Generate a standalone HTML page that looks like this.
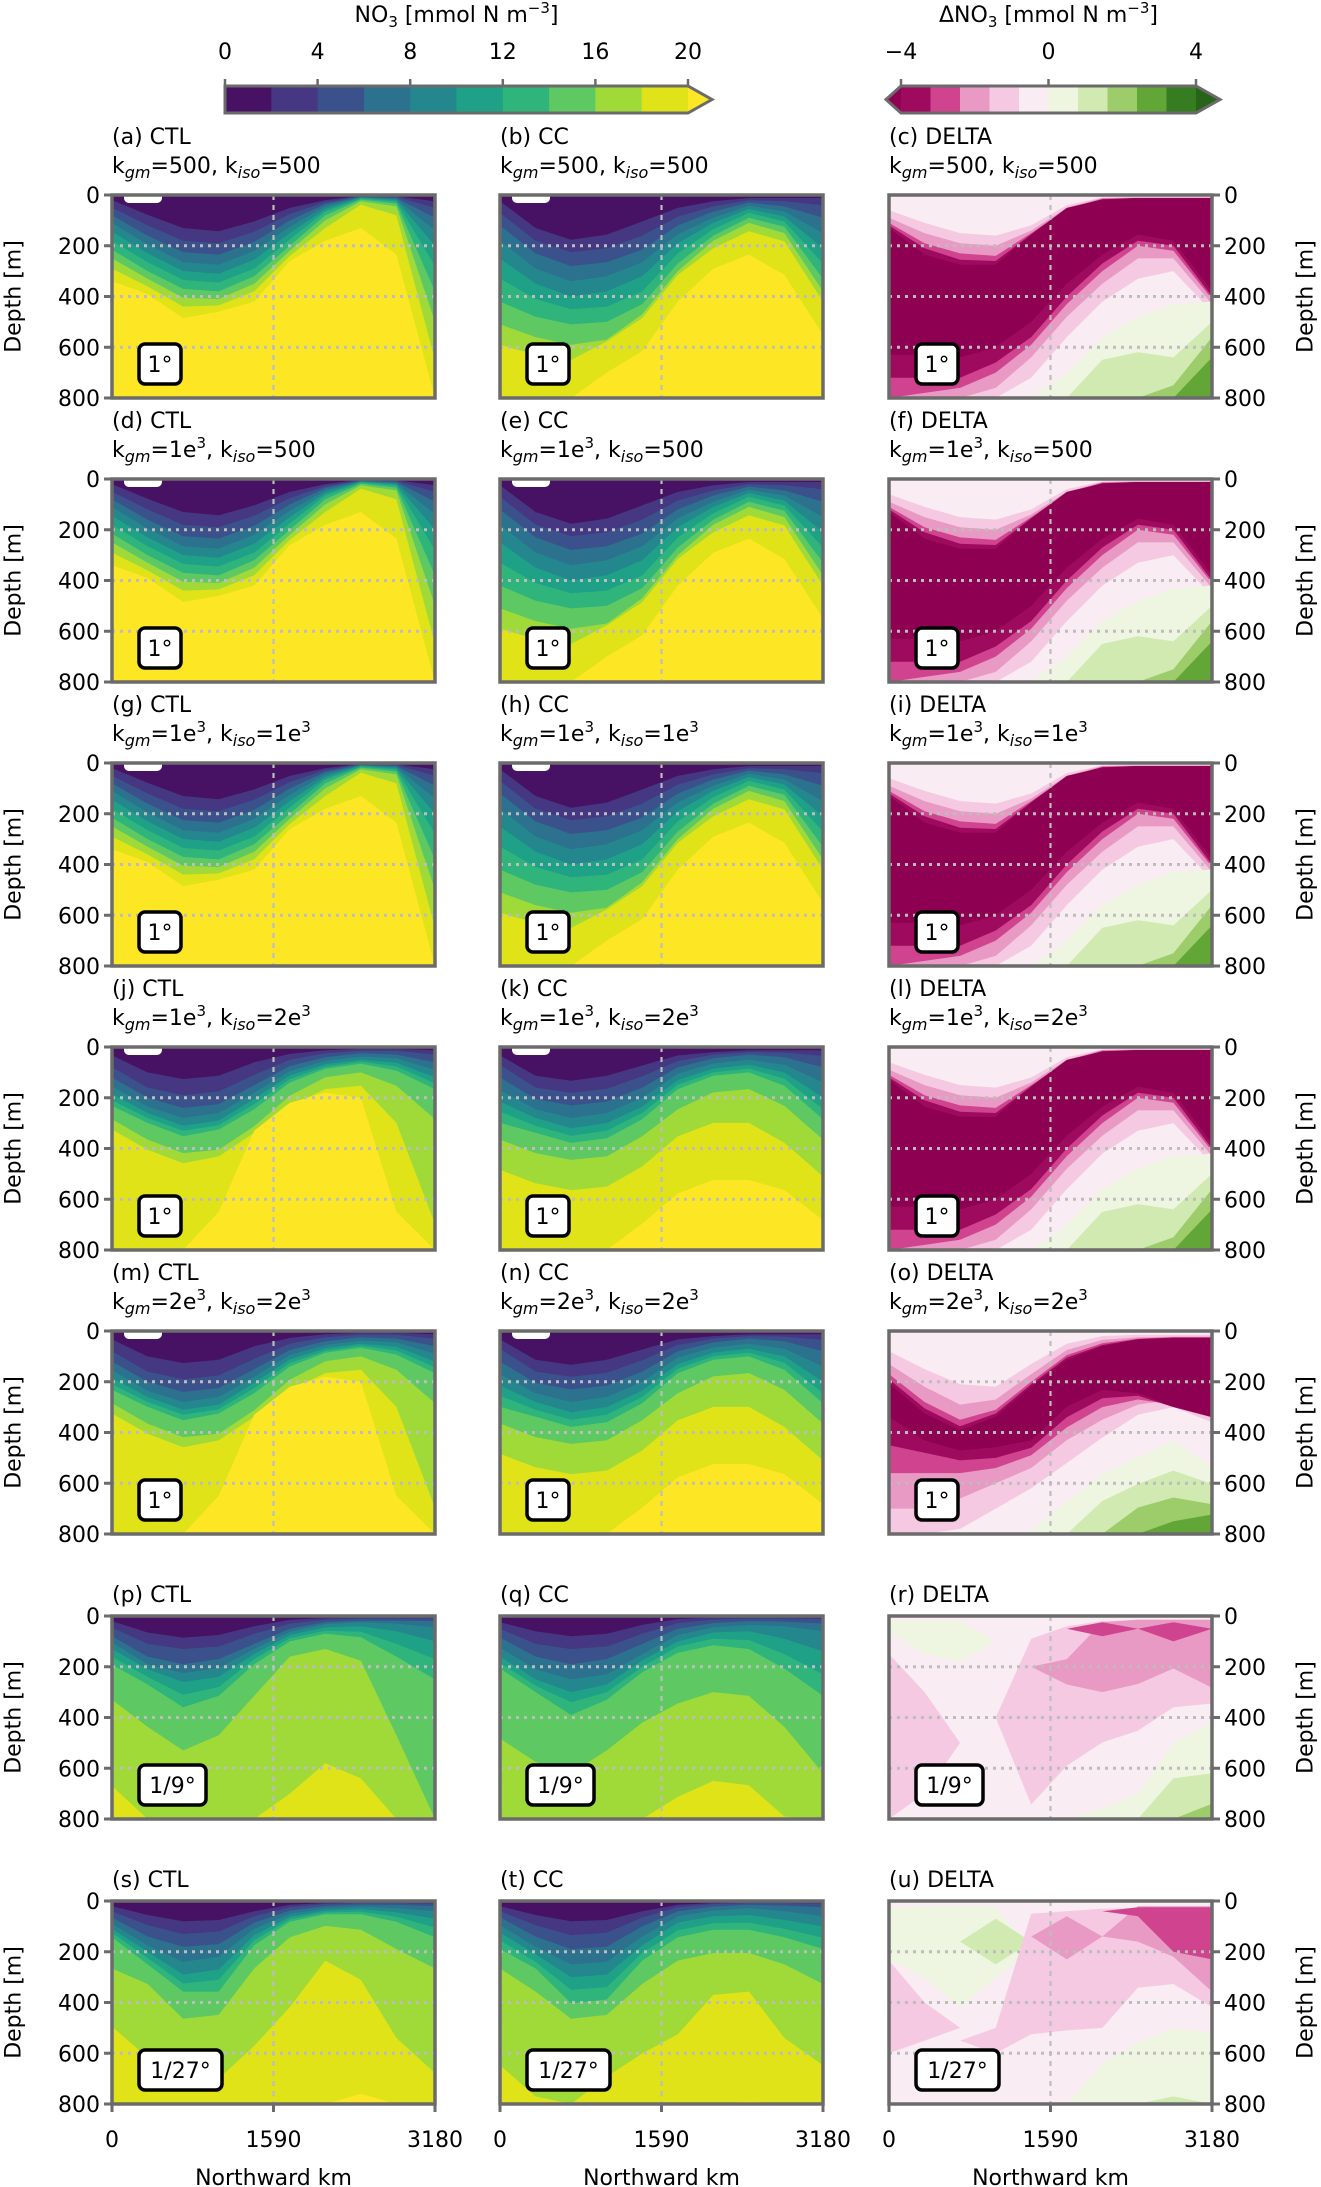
<!DOCTYPE html>
<html><head><meta charset="utf-8"><title>NO3 sections</title>
<style>
html,body{margin:0;padding:0;background:#fff;}
svg{display:block;font-family:"DejaVu Sans","Liberation Sans",sans-serif;}
</style></head>
<body>
<svg id="fig" xmlns="http://www.w3.org/2000/svg" width="1321" height="2187" viewBox="0 0 1321 2187"></svg>
<script>
// ---------- data ----------
const X_KM = [0,350,700,1050,1400,1750,2100,2450,2800,3180];
const DEPTH_TICKS = [0,200,400,600,800];
const X_TICKS = [0,1590,3180];
const NO3_TICKS = [0,4,8,12,16,20];
const DNO3_TICKS = [-4,0,4];
const NO3_COLORS = ['#471164','#453781','#3b518b','#2c718e','#24878e','#1fa187','#2fb47c','#5ec962','#a0da39','#dfe318','#fde725'];
const DNO3_COLORS = ['#9e0a5e','#d0448f','#e89ac4','#f6c9e2','#f9ecf2','#eef5e1','#d0eab1','#9dcc6b','#63a638','#367d21'];
const DNO3_UNDER = '#8e0152';
const DNO3_OVER = '#276419';
const FULL = [800,800,800,800,800,800,800,800,800,800];

// isoline depths (m) of NO3 = 2,4,...,20 at X_KM
const ctlA = [
 [20,78,130,143,104,51,20,3,5,25],
 [50,120,180,190,145,75,28,5,8,50],
 [80,160,225,235,185,100,36,7,12,90],
 [110,195,265,275,220,125,45,9,16,140],
 [145,230,300,310,255,150,55,11,20,200],
 [180,265,335,345,290,175,65,14,26,280],
 [215,300,370,380,320,200,80,18,34,380],
 [250,330,405,410,350,220,100,25,45,500],
 [290,360,440,435,380,240,130,38,80,650],
 [340,390,485,460,420,260,180,130,235,850]
];
const ctlB = [
 [33,100,126,113,60,27,13,7,7,13],
 [80,160,190,175,110,50,25,15,15,30],
 [120,200,240,225,150,75,40,25,30,60],
 [155,235,280,260,180,95,55,38,45,90],
 [185,260,310,290,205,112,68,50,62,120],
 [210,280,330,308,225,126,78,58,77,143],
 [232,299,352,325,245,140,86,66,93,166],
 [285,365,418,405,312,192,119,100,153,285],
 [325,405,458,431,338,232,166,153,299,697],
 [900,900,900,650,330,220,180,200,650,900]
];
const ccA = [
 [25,130,176,156,104,51,25,12,12,12],
 [70,180,225,210,160,85,45,20,25,40],
 [120,230,280,265,215,120,65,30,45,90],
 [180,290,340,320,265,155,90,42,65,150],
 [250,350,400,380,320,190,110,55,85,210],
 [330,410,450,440,380,230,135,70,105,270],
 [420,480,510,500,430,270,160,90,125,330],
 [510,560,590,570,470,300,180,110,150,380],
 [590,630,650,577,485,315,210,143,183,420],
 [900,900,900,700,615,420,290,235,315,550]
];
const ccB = [
 [33,113,133,113,73,33,20,13,13,13],
 [70,160,180,165,115,55,30,20,22,35],
 [120,205,230,215,160,80,45,30,40,80],
 [170,245,280,260,200,105,65,50,70,140],
 [215,280,320,300,235,130,85,70,100,200],
 [255,310,350,330,260,148,100,85,125,245],
 [299,338,378,360,285,166,113,100,153,285],
 [365,418,445,431,352,245,179,166,232,365],
 [484,537,564,550,471,352,299,299,378,510],
 [900,900,900,900,696,577,524,524,564,683]
];
const ctlP = [
 [20,65,85,75,40,15,8,5,5,5],
 [45,110,130,120,70,30,15,10,10,10],
 [80,160,190,170,110,50,25,18,18,20],
 [105,190,225,205,130,62,32,25,30,45],
 [130,210,260,240,150,75,45,40,60,100],
 [160,240,310,280,170,88,58,62,110,170],
 [192,270,360,315,190,100,70,84,160,250],
 [330,437,530,470,315,160,130,176,470,900],
 [670,800,900,900,800,700,580,640,900,900],
 [900,900,900,900,900,900,900,900,900,900]
];
const ccQ = [
 [25,60,80,70,35,12,6,5,5,5],
 [50,110,130,120,70,28,14,10,10,12],
 [85,160,190,170,110,50,28,20,22,30],
 [125,210,250,230,150,75,45,35,40,60],
 [160,250,300,270,175,100,65,60,90,140],
 [185,275,340,300,200,120,90,95,150,230],
 [207,300,390,330,222,145,115,130,207,315],
 [483,575,620,530,420,345,300,315,437,620],
 [900,900,900,900,835,713,650,667,790,900],
 [900,900,900,900,900,900,900,900,900,900]
];
const ctlS = [
 [20,55,80,75,40,15,8,5,5,5],
 [40,95,130,120,60,25,12,8,8,10],
 [65,140,180,170,85,38,20,14,15,20],
 [90,175,240,220,110,50,30,22,28,40],
 [110,200,290,270,135,62,38,32,45,70],
 [125,225,325,310,155,72,45,42,62,105],
 [143,250,357,357,174,82,52,52,82,143],
 [266,327,464,449,266,143,98,113,189,266],
 [495,617,720,700,571,418,235,311,540,678],
 [900,900,900,900,900,900,800,760,900,900]
];
const ccT = [
 [20,55,80,75,40,15,8,5,5,5],
 [40,95,135,125,65,25,12,8,8,10],
 [65,140,190,180,100,40,22,15,18,25],
 [95,180,250,240,140,60,38,28,40,60],
 [125,210,300,290,175,85,60,55,75,100],
 [155,240,350,340,205,115,88,85,110,145],
 [189,266,403,388,235,143,113,113,143,189],
 [266,357,464,449,327,235,205,205,250,327],
 [647,770,900,693,601,525,370,357,540,647],
 [900,900,900,900,900,900,900,790,900,900]
];

// delta fields as nested bands: [colorKey, top depths, bottom depths]
const delA = [
 ['n4', [60,110,150,160,120,40,10,8,8,8], [800,800,800,800,720,560,420,330,300,460]],
 ['n3', [90,150,190,200,140,50,12,10,10,10], [800,800,800,760,640,480,350,250,250,430]],
 ['n2', [110,190,230,240,150,55,15,12,12,12], [800,780,760,700,590,430,300,200,220,410]],
 ['n1', [120,210,255,260,155,52,17,12,12,12], [720,720,720,660,560,400,270,180,200,400]],
 ['un', [130,235,275,275,156,51,18,12,12,12], [630,630,640,600,500,350,235,156,180,380]],
 ['p1', [900,900,900,900,900,700,560,480,430,420], FULL],
 ['p2', [900,900,900,900,900,900,650,620,640,500], FULL],
 ['p3', [900,900,900,900,900,900,900,900,750,560], FULL],
 ['p4', [900,900,900,900,900,900,900,900,900,640], FULL]
];
const delB = [
 ['n4', [80,150,210,220,130,50,20,15,15,15], [800,800,780,700,620,520,420,330,300,360]],
 ['n3', [130,220,290,270,170,75,35,25,22,22], [700,700,660,600,540,430,350,290,270,330]],
 ['n2', [170,280,350,310,200,95,48,30,25,25], [560,560,560,540,490,380,300,270,290,340]],
 ['n1', [190,305,375,325,210,105,55,32,26,26], [450,480,510,500,460,340,265,255,300,340]],
 ['un', [206,325,391,338,219,113,60,33,27,27], [338,431,471,458,431,298,232,245,298,338]],
 ['p1', [900,900,900,900,790,670,564,497,431,537], FULL],
 ['p2', [900,900,900,900,900,800,670,603,550,603], FULL],
 ['p3', [900,900,900,900,900,900,900,696,656,683], FULL],
 ['p4', [900,900,900,900,900,900,900,900,750,723], FULL]
];
const delR = [
 ['n4', [150,300,500,500,500,500,500,500,500,500], [800,700,500,500,500,500,500,500,500,500]],
 ['n4', [400,400,400,400,90,40,20,15,15,15], [400,400,400,400,743,590,498,452,360,345]],
 ['n3', [200,200,200,200,200,170,25,15,15,15], [200,200,200,200,200,270,300,268,207,283]],
 ['n2', [50,50,50,50,50,50,25,50,25,50], [50,50,50,50,50,50,80,50,100,50]],
 ['p1', [20,20,20,100,100,100,100,100,100,100], [60,150,180,100,100,100,100,100,100,100]],
 ['p1', [900,900,900,900,900,800,760,700,500,420], FULL],
 ['p2', [900,900,900,900,900,900,900,900,640,620], FULL],
 ['p3', [900,900,900,900,900,900,900,900,900,740], FULL]
];
const delU = [
 ['p1', [30,20,20,20,200,200,200,200,200,200], [230,300,420,300,200,200,200,200,200,200]],
 ['p2', [160,160,160,70,160,160,160,160,160,160], [160,160,160,250,160,160,160,160,160,160]],
 ['n4', [235,400,500,500,500,500,500,500,500,500], [600,550,500,500,500,500,500,500,500,500]],
 ['n4', [550,550,550,500,50,40,30,30,30,30], [550,550,550,600,525,510,500,342,327,418]],
 ['n3', [140,140,140,140,140,60,140,21,21,21], [140,140,140,140,140,230,140,160,220,357]],
 ['n2', [40,40,40,40,40,40,40,25,25,25], [40,40,40,40,40,40,40,60,200,230]],
 ['p1', [900,900,900,900,900,900,640,560,500,520], FULL],
 ['p2', [900,900,900,900,900,900,900,900,770,800], FULL]
];

// ---------- layout ----------
const COL_X = [112, 500, 889];
const ROW_Y = [195, 479, 763, 1047, 1331, 1616, 1901];
const PW = 323, PH = 203;
const DCOL = {n4:DNO3_COLORS[3], n3:DNO3_COLORS[2], n2:DNO3_COLORS[1], n1:DNO3_COLORS[0], un:DNO3_UNDER,
  p1:DNO3_COLORS[5], p2:DNO3_COLORS[6], p3:DNO3_COLORS[7], p4:DNO3_COLORS[8]};

const svg = document.getElementById('fig');
const NS = 'http://www.w3.org/2000/svg';
function mk(tag, attrs, parent){
  const e = document.createElementNS(NS, tag);
  for (const k in attrs) e.setAttribute(k, attrs[k]);
  (parent || svg).appendChild(e);
  return e;
}
function txt(str, x, y, anchor, parent, size){
  const t = mk('text', {x:x, y:y, 'text-anchor':anchor || 'start', 'font-size':size || 22, fill:'#000'}, parent);
  t.textContent = str;
  return t;
}
function clampD(v){ return Math.max(0, Math.min(800, v)); }

const ROWS = [
  {kgm:['500',''], kiso:['500',''], res:'1°', d:[ctlA, ccA, delA]},
  {kgm:['1e','3'], kiso:['500',''], res:'1°', d:[ctlA, ccA, delA]},
  {kgm:['1e','3'], kiso:['1e','3'], res:'1°', d:[ctlA, ccA, delA]},
  {kgm:['1e','3'], kiso:['2e','3'], res:'1°', d:[ctlB, ccB, delA]},
  {kgm:['2e','3'], kiso:['2e','3'], res:'1°', d:[ctlB, ccB, delB]},
  {kgm:null, res:'1/9°', d:[ctlP, ccQ, delR]},
  {kgm:null, res:'1/27°', d:[ctlS, ccT, delU]}
];
const COL_NAMES = ['CTL','CC','DELTA'];
const LETTERS = 'abcdefghijklmnopqrstu';

ROWS.forEach((row, r) => {
  COL_NAMES.forEach((cname, c) => {
    const L = COL_X[c], T = ROW_Y[r];
    const xs = km => L + km / 3180 * PW;
    const ys = d => T + clampD(d) / 800 * PH;
    const letter = LETTERS[r*3 + c];
    const g = mk('g', {});
    
    
    const cid = 'clip' + letter;
    const cp = mk('clipPath', {id:cid}, g);
    mk('rect', {x:L, y:T, width:PW, height:PH}, cp);
    const field = mk('g', {'clip-path':'url(#' + cid + ')'}, g);
    
    
    const band = (top, bot, color) => {
      const pts = X_KM.map((x,j) => xs(x).toFixed(1) + ',' + ys(top[j]).toFixed(1));
      for (let j = X_KM.length - 1; j >= 0; j--) pts.push(xs(X_KM[j]).toFixed(1) + ',' + ys(bot[j]).toFixed(1));
      const p = mk('polygon', {points:pts.join(' '), fill:color}, field);
      
      
    };
    const data = row.d[c];
    if (c < 2) {
      mk('rect', {x:L, y:T, width:PW, height:PH, fill:NO3_COLORS[0]}, field);
      data.forEach((lev, i) => band(lev, FULL, NO3_COLORS[i+1]));
      if (r < 5) {
        const wb = mk('rect', {x:L+12, y:T-4, width:38, height:12, rx:5, fill:'#fff'}, field);
        
        
      }
    } else {
      mk('rect', {x:L, y:T, width:PW, height:PH, fill:DNO3_COLORS[4]}, field);
      data.forEach(layer => band(layer[1], layer[2], DCOL[layer[0]]));
    }
    // grid
    [200,400,600].forEach(d => {
      const gl = mk('line', {x1:L, x2:L+PW, y1:ys(d), y2:ys(d), stroke:'#bdbdbd', 'stroke-width':3, 'stroke-dasharray':'3,5'}, g);
      
      
    });
    const vl = mk('line', {x1:xs(1590), x2:xs(1590), y1:T, y2:T+PH, stroke:'#bdbdbd', 'stroke-width':2.2, 'stroke-dasharray':'5,5'}, g);
    
    
    // spines
    const sp = mk('rect', {x:L, y:T, width:PW, height:PH, fill:'none', stroke:'#6b6b6b', 'stroke-width':3.5}, g);
    
    
    // y ticks
    if (c === 0 || c === 2) {
      DEPTH_TICKS.forEach(d => {
        const y = ys(d);
        if (c === 0) {
          mk('line', {x1:L-8, x2:L, y1:y, y2:y, stroke:'#6b6b6b', 'stroke-width':3}, g);
          const t = txt(String(d), L-12, y+8, 'end', g);
          
          
        } else {
          mk('line', {x1:L+PW, x2:L+PW+8, y1:y, y2:y, stroke:'#6b6b6b', 'stroke-width':3}, g);
          const t = txt(String(d), L+PW+12, y+8, 'start', g);
          
          
        }
      });
      const cx = c === 0 ? 14 : 1306;
      const cy = T + PH/2;
      const yl = txt('Depth [m]', cx, cy, 'middle', g);
      yl.setAttribute('transform', 'rotate(-90 ' + cx + ' ' + cy + ')');
      yl.setAttribute('dominant-baseline', 'central');
      
      
    }
    // x ticks on last row
    if (r === ROWS.length - 1) {
      X_TICKS.forEach(k => {
        mk('line', {x1:xs(k), x2:xs(k), y1:T+PH, y2:T+PH+8, stroke:'#6b6b6b', 'stroke-width':3}, g);
        const t = txt(String(k), xs(k), 2147, 'middle', g);
        
        
      });
      const xl = txt('Northward km', L + PW/2, 2185, 'middle', g);
      
      
    }
    // titles
    const tY = row.kgm ? T - 51 : T - 14;
    const tt = txt('(' + letter + ') ' + cname, L, tY, 'start', g);
    
    
    if (row.kgm) {
      const pt = mk('text', {x:L, y:T-22, 'font-size':22}, g);
      
      
      const add = (s, attrs) => { const ts = mk('tspan', attrs || {}, pt); ts.textContent = s; };
      add('k');
      add('gm', {'font-size':16, 'font-style':'italic', dy:5});
      add('=' + row.kgm[0], {dy:-5});
      if (row.kgm[1]) { add(row.kgm[1], {'font-size':15, dy:-9}); add(', k', {dy:9}); } else add(', k');
      add('iso', {'font-size':16, 'font-style':'italic', dy:5});
      add('=' + row.kiso[0], {dy:-5});
      if (row.kiso[1]) add(row.kiso[1], {'font-size':15, dy:-9});
    }
    // resolution box
    const bw = row.res === '1°' ? 42 : (row.res === '1/9°' ? 67 : 83);
    const rb = mk('g', {}, g);
    
    
    mk('rect', {x:L+27, y:T+149, width:bw, height:40, rx:6, fill:'#fff', stroke:'#000', 'stroke-width':3.5}, rb);
    txt(row.res, L+27+bw/2, T+177, 'middle', rb);
  });
});

// ---------- colorbars ----------
function colorbar(name, x0, x1, colors, ticks, vmin, vmax, title, under, over) {
  const g = mk('g', {});
  
  
  const y0 = 86, y1 = 113, ym = 99.5;
  const sx = v => x0 + (v - vmin) / (vmax - vmin) * (x1 - x0);
  const step = (vmax - vmin) / colors.length;
  colors.forEach((col, i) => {
    const s = mk('rect', {x:sx(vmin + i*step), y:y0, width:sx(vmin + (i+1)*step) - sx(vmin + i*step) + 0.5, height:y1-y0, fill:col}, g);
    
    
  });
  let outline = x0 + ',' + y0 + ' ' + x1 + ',' + y0 + ' ';
  if (over) { mk('polygon', {points:x1+','+y0+' '+(x1+24)+','+ym+' '+x1+','+y1, fill:over}, g); outline += (x1+24) + ',' + ym + ' '; }
  outline += x1 + ',' + y1 + ' ' + x0 + ',' + y1;
  if (under) { mk('polygon', {points:x0+','+y0+' '+(x0-15)+','+ym+' '+x0+','+y1, fill:under}, g); outline += ' ' + (x0-15) + ',' + ym; }
  mk('polygon', {points:outline, fill:'none', stroke:'#6b6b6b', 'stroke-width':3, 'stroke-linejoin':'miter'}, g);
  ticks.forEach(v => {
    mk('line', {x1:sx(v), x2:sx(v), y1:y0-7, y2:y0, stroke:'#6b6b6b', 'stroke-width':2.5}, g);
    const t = txt(v < 0 ? '\u2212' + Math.abs(v) : String(v), sx(v), 59, 'middle', g);
    
    
  });
  const tt = mk('text', {x:(x0+x1)/2, y:22, 'text-anchor':'middle', 'font-size':22}, g);
  
  
  const a = (s, at) => { const ts = mk('tspan', at || {}, tt); ts.textContent = s; };
  a(title + 'NO');
  a('3', {'font-size':15, dy:5});
  a(' [mmol N m', {dy:-5});
  a('\u22123', {'font-size':15, dy:-9});
  a(']', {dy:9});
}
colorbar('no3-colorbar', 225, 688, NO3_COLORS.slice(0,10), NO3_TICKS, 0, 20, '', null, NO3_COLORS[10]);
colorbar('delta-no3-colorbar', 901, 1196, DNO3_COLORS, DNO3_TICKS, -4, 4, '\u0394', DNO3_UNDER, DNO3_OVER);
</script>
</body></html>
